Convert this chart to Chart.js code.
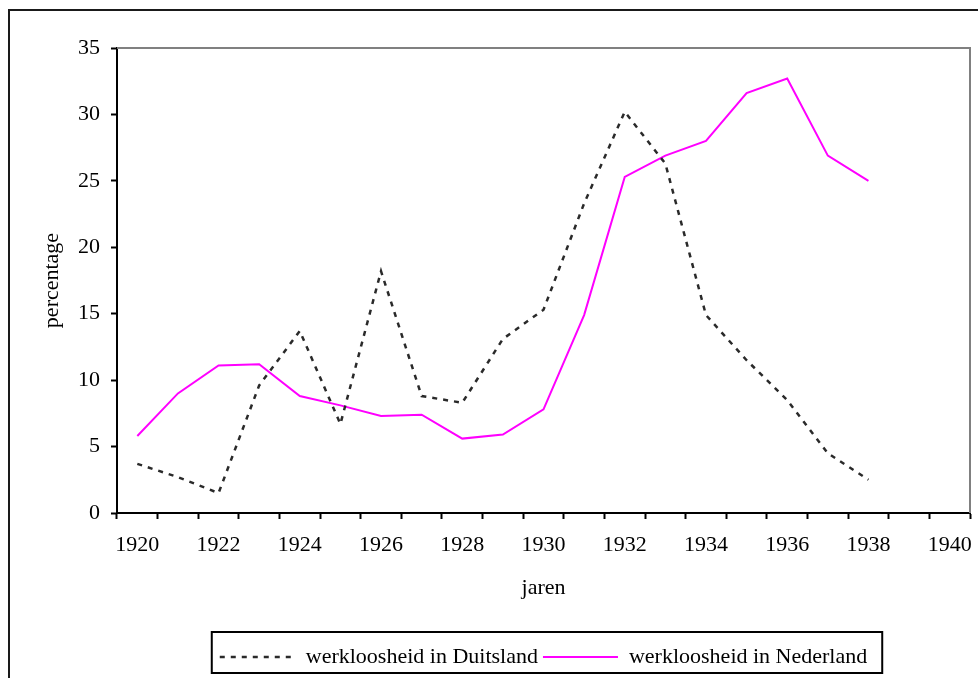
<!DOCTYPE html>
<html>
<head>
<meta charset="utf-8">
<script src="https://cdn.jsdelivr.net/npm/chart.js@4.4.0/dist/chart.umd.min.js"></script>
<style>
  html, body { margin: 0; padding: 0; background: #fff; }
  #wrap { width: 978px; height: 678px; }
</style>
</head>
<body>
<div id="wrap"><canvas id="chart" width="978" height="678"></canvas></div>
<script>
const jaren = ["1920","1921","1922","1923","1924","1925","1926","1927","1928","1929","1930",
  "1931","1932","1933","1934","1935","1936","1937","1938","1939","1940"];
const duitsland = [3.7, 2.7, 1.5, 9.6, 13.7, 6.7, 18.2, 8.8, 8.3, 13.1, 15.3,
  23.3, 30.2, 26.3, 14.9, 11.5, 8.5, 4.5, 2.5, null, null];
const nederland = [5.8, 9.0, 11.1, 11.2, 8.8, 8.1, 7.3, 7.4, 5.6, 5.9, 7.8,
  14.9, 25.3, 26.9, 28.0, 31.6, 32.7, 26.9, 25.0, null, null];
const yTicks = [0, 5, 10, 15, 20, 25, 30, 35];

const serif = '"Liberation Serif", "Times New Roman", serif';
Chart.defaults.font.family = serif;
Chart.defaults.font.size = 22;
Chart.defaults.color = "#000";

const defaultLabels = Chart.defaults.plugins.legend.labels.generateLabels;

// frame round the picture, border top/right of plot, box round legend
const frames = {
  id: "frames",
  beforeDraw(chart) {
    const ctx = chart.ctx;
    ctx.save();
    ctx.fillStyle = "#fff";
    ctx.fillRect(0, 0, chart.width, chart.height);
    ctx.strokeStyle = "#1a1a1a";
    ctx.lineWidth = 2;
    ctx.beginPath();
    ctx.moveTo(9, chart.height);
    ctx.lineTo(9, 10);
    ctx.lineTo(chart.width, 10);
    ctx.stroke();
    ctx.restore();
  },
  afterDraw(chart) {
    const ctx = chart.ctx;
    const a = chart.chartArea;
    ctx.save();
    ctx.strokeStyle = "#808080";
    ctx.lineWidth = 2;
    ctx.beginPath();
    ctx.moveTo(a.left, a.top);
    ctx.lineTo(a.right, a.top);
    ctx.lineTo(a.right, a.bottom);
    ctx.stroke();

    const hb = chart.legend.legendHitBoxes;
    if (hb && hb.length) {
      const left = Math.min(...hb.map(h => h.left)) - 8;
      const right = Math.max(...hb.map(h => h.left + h.width)) + 15;
      const cy = hb[0].top + hb[0].height / 2;
      ctx.strokeStyle = "#000";
      ctx.lineWidth = 2;
      ctx.strokeRect(left, cy - 25, right - left, 41);
    }
    ctx.restore();
  }
};

new Chart(document.getElementById("chart").getContext("2d"), {
  type: "line",
  data: {
    labels: jaren,
    datasets: [
      {
        label: "werkloosheid in Duitsland",
        data: duitsland,
        borderColor: "#2a2a2a",
        backgroundColor: "#2a2a2a",
        borderWidth: 2.5,
        borderDash: [5, 6],
        pointRadius: 0,
        tension: 0
      },
      {
        label: "werkloosheid in Nederland",
        data: nederland,
        borderColor: "#ff00ff",
        backgroundColor: "#ff00ff",
        borderWidth: 2,
        pointRadius: 0,
        tension: 0
      }
    ]
  },
  options: {
    responsive: false,
    animation: false,
    layout: { padding: { top: 48, right: 8, bottom: 0, left: 0 } },
    plugins: {
      tooltip: { enabled: false },
      legend: {
        position: "bottom",
        fullSize: false,
        labels: {
          usePointStyle: true,
          pointStyle: "line",
          pointStyleWidth: 75,
          padding: 5,
          color: "#000",
          font: { size: 22, family: serif },
          generateLabels(chart) {
            const items = defaultLabels(chart);
            items.forEach(it => {
              it.lineDash = chart.data.datasets[it.datasetIndex].borderDash || [];
            });
            return items;
          }
        }
      }
    },
    scales: {
      x: {
        type: "category",
        offset: true,
        grid: {
          offset: true,
          drawOnChartArea: false,
          drawTicks: true,
          tickLength: 6,
          tickColor: "#000",
          tickWidth: 2
        },
        border: { color: "#000", width: 2 },
        ticks: {
          autoSkip: false,
          maxRotation: 0,
          padding: 13,
          callback: function (value, index) {
            return index % 2 === 0 ? jaren[index] : "";
          }
        },
        title: { display: true, text: "jaren", padding: { top: 0, bottom: 40 } },
        afterFit(scale) {
          scale.height = 128;
          scale.paddingLeft = 0;
          scale.paddingRight = 0;
        }
      },
      y: {
        min: 0,
        max: 35,
        grid: {
          drawOnChartArea: false,
          drawTicks: true,
          tickLength: 6,
          tickColor: "#000",
          tickWidth: 2
        },
        border: { color: "#000", width: 2 },
        afterBuildTicks(scale) { scale.ticks = yTicks.map(v => ({ value: v })); },
        ticks: { padding: 11 },
        title: { display: true, text: "percentage", padding: { top: 39, bottom: 0 } },
        afterFit(scale) { scale.width = 117; }
      }
    }
  },
  plugins: [frames]
});
</script>
</body>
</html>
